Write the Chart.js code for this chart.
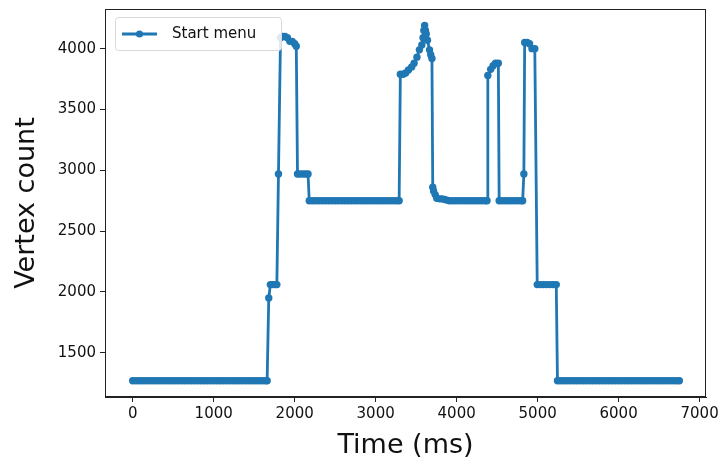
<!DOCTYPE html>
<html>
<head>
<meta charset="utf-8">
<script src="https://cdn.jsdelivr.net/npm/chart.js@4"></script>
<style>
    html, body { margin: 0; padding: 0; background: #fff; }
    #wrap { width: 723px; height: 463px; }
</style>
</head>
<body>
<div id="wrap"><canvas id="vertexChart" width="723" height="463"></canvas></div>
<script>
/* 頂点数の推移 (Start menu) */

const seriesLabel = 'Start menu';
const xTitle = 'Time (ms)';
const yTitle = 'Vertex count';

// 目盛り
const xTicks = [0, 1000, 2000, 3000, 4000, 5000, 6000, 7000];
const yTicks = [1500, 2000, 2500, 3000, 3500, 4000];

// 時刻 (ms)
const timeMs = [
    0, 40, 80, 120, 160, 200, 240, 280, 320, 360, 400, 440, 480, 520, 560, 600, 640, 680, 720, 760,
    800, 840, 880, 920, 960, 1000, 1040, 1080, 1120, 1160, 1200, 1240, 1280, 1320, 1360, 1400, 1440, 1480, 1520, 1560,
    1600, 1640, 1660,
    1680, 1700, 1730, 1760, 1780, 1800, 1825, 1850, 1880, 1910, 1940, 1970, 2000, 2020,
    2035, 2065, 2100, 2135, 2165,
    2180, 2220, 2260, 2300, 2340, 2380, 2420, 2460, 2500, 2540, 2580, 2620, 2660, 2700, 2740, 2780, 2820, 2860, 2900, 2940,
    2980, 3020, 3060, 3100, 3140, 3180, 3220, 3260, 3290,
    3305, 3340, 3370, 3405, 3445, 3475, 3510, 3540, 3570, 3585, 3595, 3605, 3615, 3625, 3640, 3665, 3680, 3695,
    3705, 3715, 3735, 3755, 3790, 3820, 3850, 3880,
    3910, 3950, 3990, 4030, 4070, 4110, 4150, 4190, 4230, 4270, 4310, 4350, 4375,
    4385, 4420, 4450, 4480, 4515,
    4525, 4560, 4600, 4640, 4680, 4720, 4760, 4800, 4815,
    4830, 4840, 4870, 4900, 4930, 4965,
    4995, 5030, 5070, 5110, 5150, 5190, 5230,
    5245, 5280, 5320, 5360, 5400, 5440, 5480, 5520, 5560, 5600, 5640, 5680, 5720, 5760, 5800, 5840, 5880, 5920, 5960, 6000,
    6040, 6080, 6120, 6160, 6200, 6240, 6280, 6320, 6360, 6400, 6440, 6480, 6520, 6560, 6600, 6640, 6680, 6720, 6750
];

// 頂点数
const vertexCount = [
    1270, 1270, 1270, 1270, 1270, 1270, 1270, 1270, 1270, 1270, 1270, 1270, 1270, 1270, 1270, 1270, 1270, 1270, 1270, 1270,
    1270, 1270, 1270, 1270, 1270, 1270, 1270, 1270, 1270, 1270, 1270, 1270, 1270, 1270, 1270, 1270, 1270, 1270, 1270, 1270,
    1270, 1270, 1270,
    1950, 2060, 2060, 2060, 2060, 2970, 4090, 4100, 4100, 4090, 4060, 4060, 4040, 4020,
    2970, 2970, 2970, 2970, 2970,
    2750, 2750, 2750, 2750, 2750, 2750, 2750, 2750, 2750, 2750, 2750, 2750, 2750, 2750, 2750, 2750, 2750, 2750, 2750, 2750,
    2750, 2750, 2750, 2750, 2750, 2750, 2750, 2750, 2750,
    3790, 3790, 3800, 3825, 3850, 3880, 3930, 3990, 4030, 4090, 4150, 4190, 4150, 4120, 4070, 3990, 3950, 3920,
    2860, 2830, 2800, 2770, 2765, 2765, 2760, 2755,
    2750, 2750, 2750, 2750, 2750, 2750, 2750, 2750, 2750, 2750, 2750, 2750, 2750,
    3780, 3830, 3860, 3880, 3880,
    2750, 2750, 2750, 2750, 2750, 2750, 2750, 2750, 2750,
    2970, 4050, 4050, 4040, 4000, 4000,
    2060, 2060, 2060, 2060, 2060, 2060, 2060,
    1270, 1270, 1270, 1270, 1270, 1270, 1270, 1270, 1270, 1270, 1270, 1270, 1270, 1270, 1270, 1270, 1270, 1270, 1270, 1270,
    1270, 1270, 1270, 1270, 1270, 1270, 1270, 1270, 1270, 1270, 1270, 1270, 1270, 1270, 1270, 1270, 1270, 1270, 1270
];

const COLOR = '#1f77b4';
const FONT = 'DejaVu Sans';

// matplotlib風の枠線と凡例
const framePlugin = {
    id: 'frame',
    afterDraw(chart) {
        const { ctx, chartArea: a } = chart;
        ctx.save();
        ctx.strokeStyle = '#222';
        ctx.lineWidth = 1;
        ctx.strokeRect(a.left + 0.5, a.top + 0.5, a.right - a.left - 1, a.bottom - a.top - 1);

        // 凡例
        const bx = a.left + 10, by = a.top + 8, bw = 166, bh = 33;
        ctx.fillStyle = 'rgba(255,255,255,0.85)';
        ctx.strokeStyle = '#d8d8d8';
        ctx.beginPath();
        ctx.roundRect(bx + 0.5, by + 0.5, bw, bh, 3);
        ctx.fill();
        ctx.stroke();

        const ly = by + bh / 2 + 0.5;
        ctx.strokeStyle = COLOR;
        ctx.lineWidth = 2.8;
        ctx.beginPath();
        ctx.moveTo(bx + 7, ly);
        ctx.lineTo(bx + 42, ly);
        ctx.stroke();
        ctx.fillStyle = COLOR;
        ctx.beginPath();
        ctx.arc(bx + 24.5, ly, 3.6, 0, Math.PI * 2);
        ctx.fill();

        ctx.fillStyle = '#111';
        ctx.font = '15px "' + FONT + '"';
        ctx.textBaseline = 'middle';
        ctx.fillText(seriesLabel, bx + 57, ly);
        ctx.restore();
    }
};

function initVertexChart() {
    const el = document.getElementById('vertexChart');
    if (!el) return;

    const points = timeMs.map((t, i) => ({ x: t, y: vertexCount[i] }));

    return new Chart(el.getContext('2d'), {
        type: 'line',
        data: {
            datasets: [{
                label: seriesLabel,
                data: points,
                borderColor: COLOR,
                backgroundColor: COLOR,
                borderWidth: 2.8,
                borderJoinStyle: 'round',
                borderCapStyle: 'round',
                pointRadius: 3.7,
                pointBorderWidth: 0,
                pointBackgroundColor: COLOR,
                tension: 0
            }]
        },
        options: {
            responsive: false,
            animation: false,
            layout: { padding: { left: 0, top: 9, right: 17, bottom: 0 } },
            plugins: {
                legend: { display: false },
                tooltip: { enabled: false }
            },
            scales: {
                x: {
                    type: 'linear',
                    min: -342,
                    max: 7079,
                    afterBuildTicks(scale) { scale.ticks = xTicks.map(v => ({ value: v })); },
                    afterFit(scale) {
                        scale.height = 66;
                        scale.paddingLeft = 0;
                        scale.paddingRight = 0;
                    },
                    grid: { drawOnChartArea: false, tickLength: 5, color: '#222' },
                    border: { color: '#222' },
                    ticks: {
                        padding: 3,
                        color: '#111',
                        font: { family: FONT, size: 15 },
                        maxRotation: 0,
                        autoSkip: false,
                        callback: v => String(v)
                    },
                    title: {
                        display: true,
                        text: xTitle,
                        color: '#111',
                        font: { family: FONT, size: 27 },
                        padding: { top: 0, bottom: 1 }
                    }
                },
                y: {
                    min: 1136,
                    max: 4326,
                    afterBuildTicks(scale) { scale.ticks = yTicks.map(v => ({ value: v })); },
                    afterFit(scale) {
                        scale.width = 105;
                        scale.paddingTop = 0;
                        scale.paddingBottom = 0;
                    },
                    grid: { drawOnChartArea: false, tickLength: 5, color: '#222' },
                    border: { color: '#222' },
                    ticks: {
                        padding: 4,
                        color: '#111',
                        font: { family: FONT, size: 15 },
                        autoSkip: false,
                        callback: v => String(v)
                    },
                    title: {
                        display: true,
                        text: yTitle,
                        color: '#111',
                        font: { family: FONT, size: 27 },
                        padding: { top: 11, bottom: 0 }
                    }
                }
            }
        },
        plugins: [framePlugin]
    });
}

initVertexChart();
</script>
</body>
</html>
